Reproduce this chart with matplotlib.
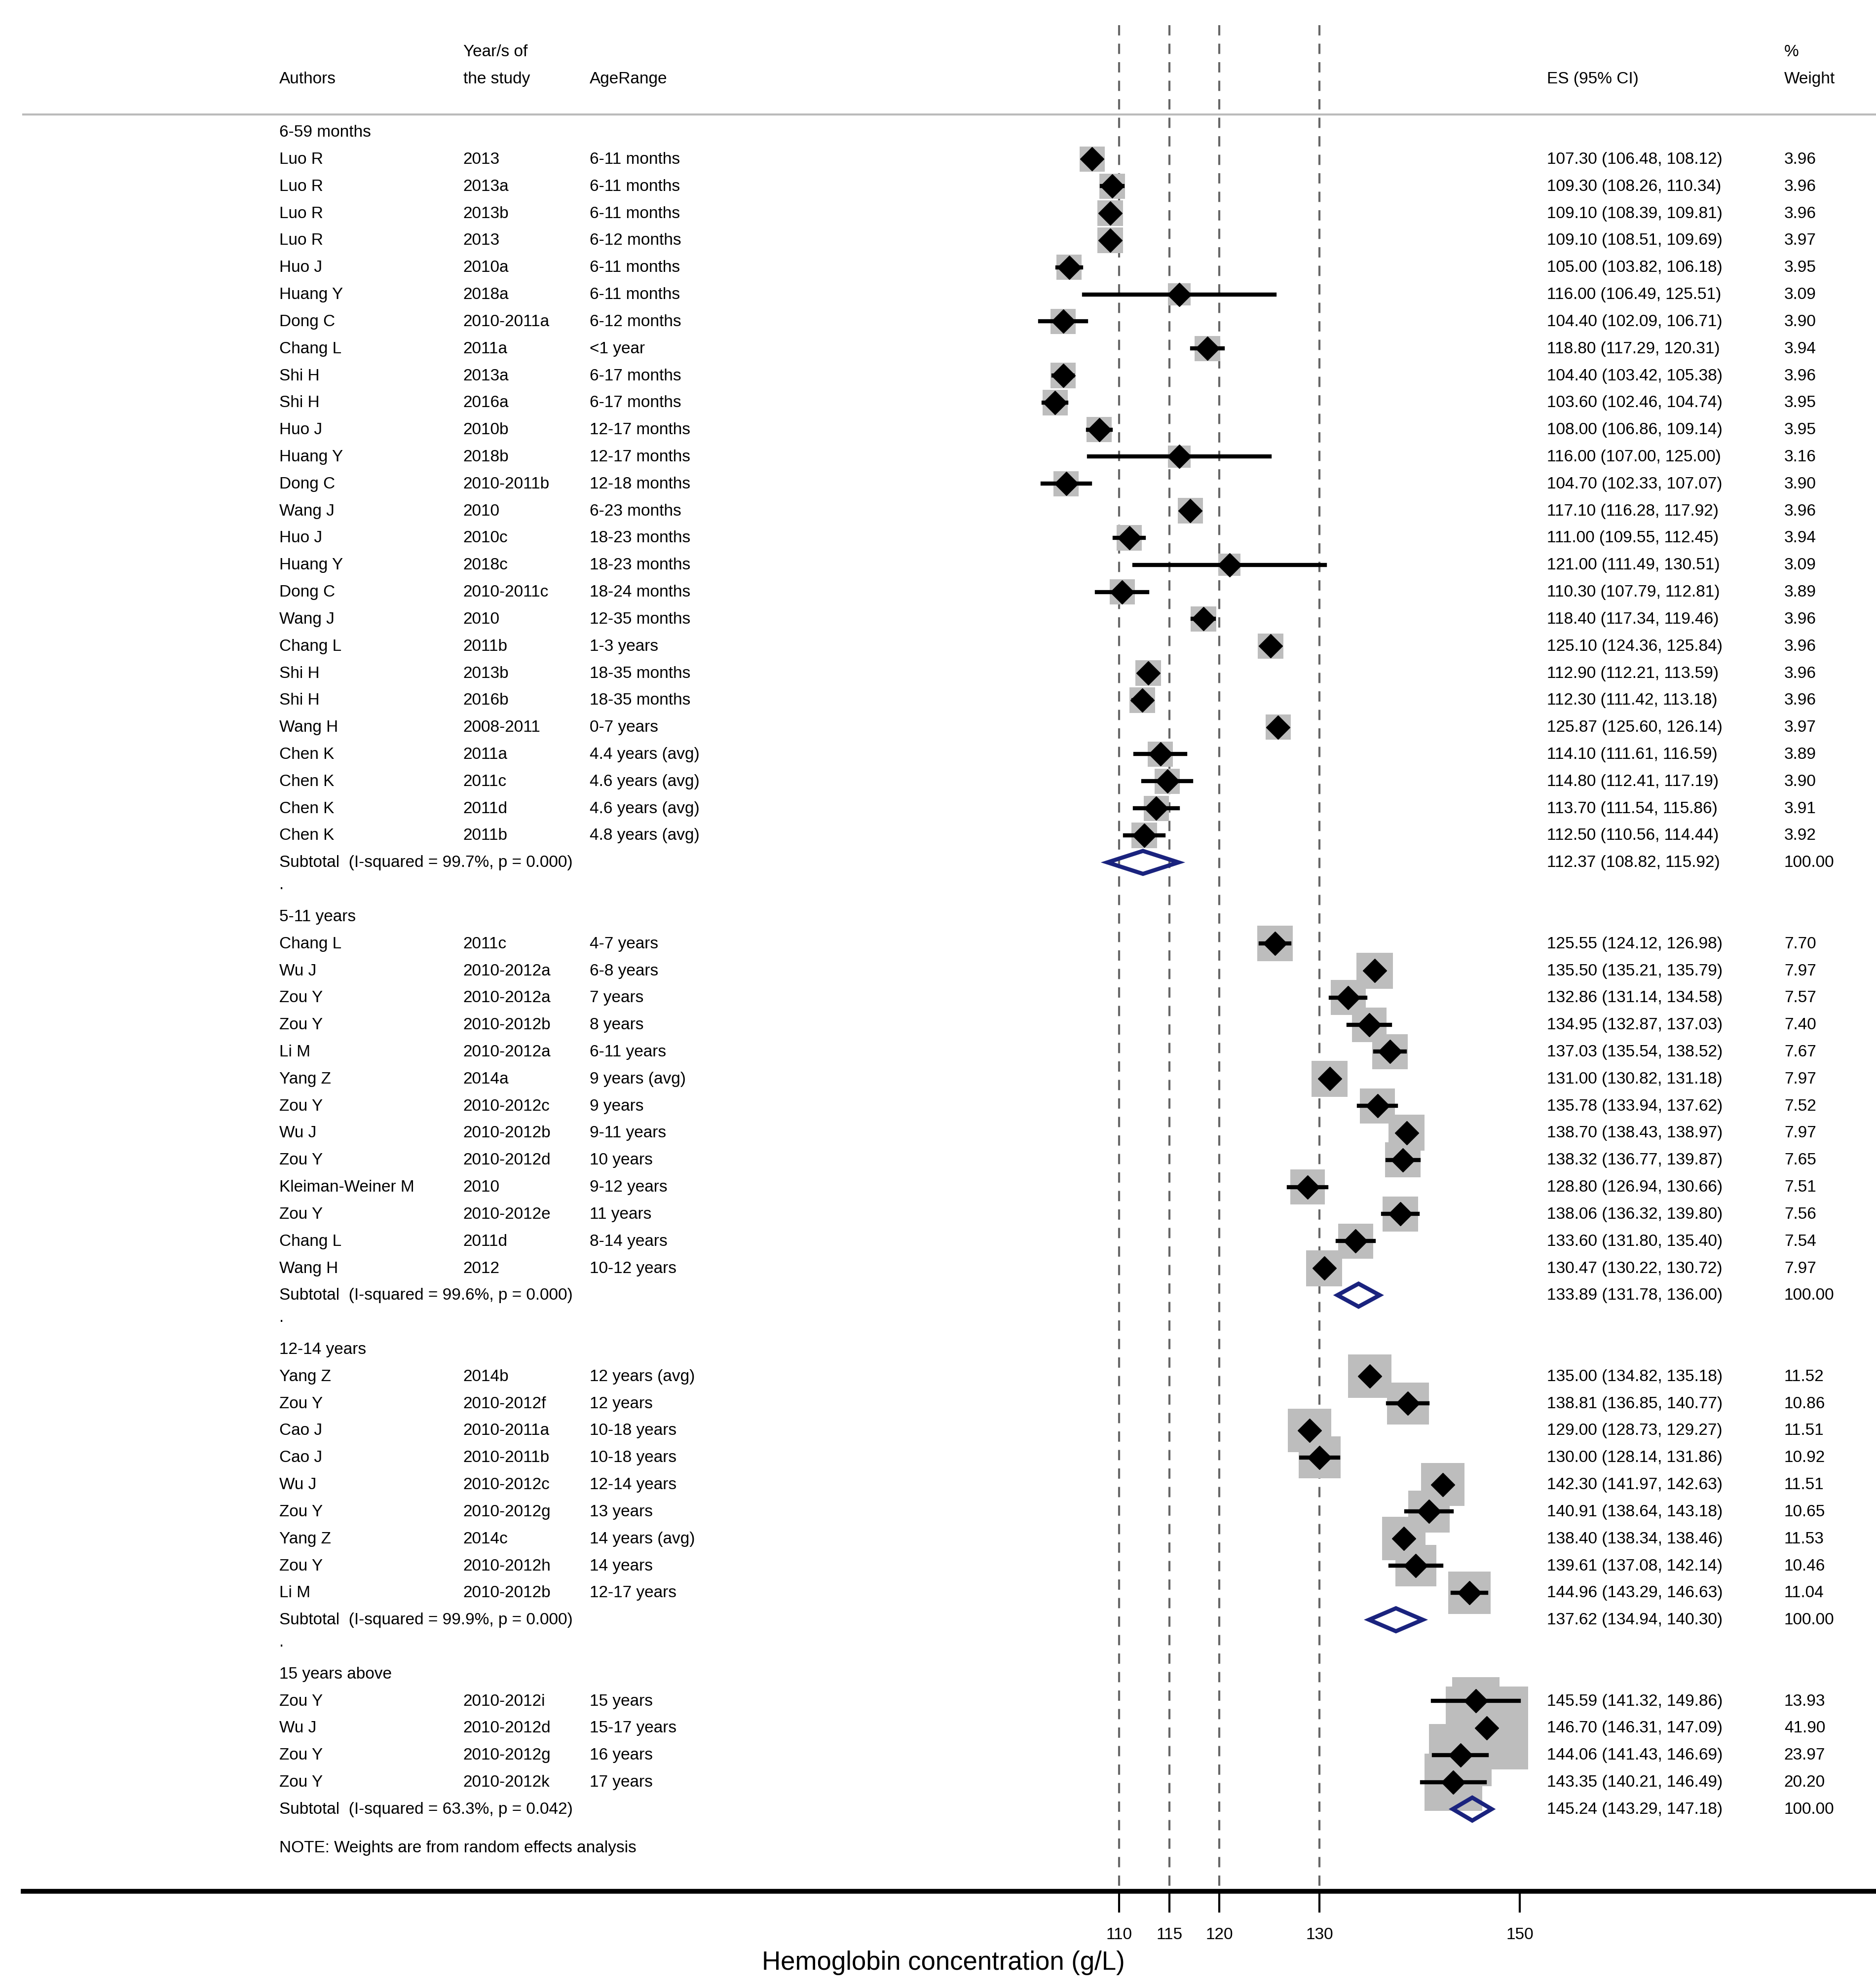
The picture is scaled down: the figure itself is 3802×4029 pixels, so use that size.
import matplotlib
matplotlib.use("Agg")
import matplotlib.pyplot as plt
from matplotlib.patches import Rectangle, Polygon
plt.rcParams['font.family'] = ['Liberation Sans', 'DejaVu Sans']

groups = ["6-59 months", "5-11 years", "12-14 years", "15 years above"]
authors = [
 ["Luo R","Luo R","Luo R","Luo R","Huo J","Huang Y","Dong C","Chang L","Shi H","Shi H","Huo J","Huang Y","Dong C","Wang J","Huo J","Huang Y","Dong C","Wang J","Chang L","Shi H","Shi H","Wang H","Chen K","Chen K","Chen K","Chen K"],
 ["Chang L","Wu J","Zou Y","Zou Y","Li M","Yang Z","Zou Y","Wu J","Zou Y","Kleiman-Weiner M","Zou Y","Chang L","Wang H"],
 ["Yang Z","Zou Y","Cao J","Cao J","Wu J","Zou Y","Yang Z","Zou Y","Li M"],
 ["Zou Y","Wu J","Zou Y","Zou Y"]]
years = [
 ["2013","2013a","2013b","2013","2010a","2018a","2010-2011a","2011a","2013a","2016a","2010b","2018b","2010-2011b","2010","2010c","2018c","2010-2011c","2010","2011b","2013b","2016b","2008-2011","2011a","2011c","2011d","2011b"],
 ["2011c","2010-2012a","2010-2012a","2010-2012b","2010-2012a","2014a","2010-2012c","2010-2012b","2010-2012d","2010","2010-2012e","2011d","2012"],
 ["2014b","2010-2012f","2010-2011a","2010-2011b","2010-2012c","2010-2012g","2014c","2010-2012h","2010-2012b"],
 ["2010-2012i","2010-2012d","2010-2012g","2010-2012k"]]
ages = [
 ["6-11 months","6-11 months","6-11 months","6-12 months","6-11 months","6-11 months","6-12 months","<1 year","6-17 months","6-17 months","12-17 months","12-17 months","12-18 months","6-23 months","18-23 months","18-23 months","18-24 months","12-35 months","1-3 years","18-35 months","18-35 months","0-7 years","4.4 years (avg)","4.6 years (avg)","4.6 years (avg)","4.8 years (avg)"],
 ["4-7 years","6-8 years","7 years","8 years","6-11 years","9 years (avg)","9 years","9-11 years","10 years","9-12 years","11 years","8-14 years","10-12 years"],
 ["12 years (avg)","12 years","10-18 years","10-18 years","12-14 years","13 years","14 years (avg)","14 years","12-17 years"],
 ["15 years","15-17 years","16 years","17 years"]]
es = [
 [107.30,109.30,109.10,109.10,105.00,116.00,104.40,118.80,104.40,103.60,108.00,116.00,104.70,117.10,111.00,121.00,110.30,118.40,125.10,112.90,112.30,125.87,114.10,114.80,113.70,112.50],
 [125.55,135.50,132.86,134.95,137.03,131.00,135.78,138.70,138.32,128.80,138.06,133.60,130.47],
 [135.00,138.81,129.00,130.00,142.30,140.91,138.40,139.61,144.96],
 [145.59,146.70,144.06,143.35]]
lo = [
 [106.48,108.26,108.39,108.51,103.82,106.49,102.09,117.29,103.42,102.46,106.86,107.00,102.33,116.28,109.55,111.49,107.79,117.34,124.36,112.21,111.42,125.60,111.61,112.41,111.54,110.56],
 [124.12,135.21,131.14,132.87,135.54,130.82,133.94,138.43,136.77,126.94,136.32,131.80,130.22],
 [134.82,136.85,128.73,128.14,141.97,138.64,138.34,137.08,143.29],
 [141.32,146.31,141.43,140.21]]
hi = [
 [108.12,110.34,109.81,109.69,106.18,125.51,106.71,120.31,105.38,104.74,109.14,125.00,107.07,117.92,112.45,130.51,112.81,119.46,125.84,113.59,113.18,126.14,116.59,117.19,115.86,114.44],
 [126.98,135.79,134.58,137.03,138.52,131.18,137.62,138.97,139.87,130.66,139.80,135.40,130.72],
 [135.18,140.77,129.27,131.86,142.63,143.18,138.46,142.14,146.63],
 [149.86,147.09,146.69,146.49]]
weights = [
 [3.96,3.96,3.96,3.97,3.95,3.09,3.90,3.94,3.96,3.95,3.95,3.16,3.90,3.96,3.94,3.09,3.89,3.96,3.96,3.96,3.96,3.97,3.89,3.90,3.91,3.92],
 [7.70,7.97,7.57,7.40,7.67,7.97,7.52,7.97,7.65,7.51,7.56,7.54,7.97],
 [11.52,10.86,11.51,10.92,11.51,10.65,11.53,10.46,11.04],
 [13.93,41.90,23.97,20.20]]
sub_label = ["Subtotal  (I-squared = 99.7%, p = 0.000)","Subtotal  (I-squared = 99.6%, p = 0.000)",
             "Subtotal  (I-squared = 99.9%, p = 0.000)","Subtotal  (I-squared = 63.3%, p = 0.042)"]
sub_es = [112.37,133.89,137.62,145.24]
sub_lo = [108.82,131.78,134.94,143.29]
sub_hi = [115.92,136.00,140.30,147.18]
ref_lines = [110,115,120,130]
xticks = [110,115,120,130,150]

W, H = 1470, 1560
fig = plt.figure(figsize=(38.02,40.30), dpi=100)
ax = fig.add_axes([0,0,1,1])
ppu = 7.85
x0 = 110 - 877/ppu
ax.set_xlim(x0, x0 + W/ppu)
ax.set_ylim(H, 0)
ax.axis("off")
def px(p): return x0 + p/ppu

fs = 24
ax.text(px(363), 41, "Year/s of", fontsize=fs, va="center")
ax.text(px(219), 62, "Authors", fontsize=fs, va="center")
ax.text(px(363), 62, "the study", fontsize=fs, va="center")
ax.text(px(462), 62, "AgeRange", fontsize=fs, va="center")
ax.text(px(1212), 62, "ES (95% CI)", fontsize=fs, va="center")
ax.text(px(1398), 41, "%", fontsize=fs, va="center")
ax.text(px(1398), 62, "Weight", fontsize=fs, va="center")
ax.plot([px(18), px(1470)], [90, 90], color="#bbbbbb", lw=3)

for v in ref_lines:
    ax.plot([v, v], [20, 1484], color="#666666", lw=3, ls=(0, (5, 4)), zorder=1)

step = 21.22
row = 0
def ry(r): return 104 + step*r
for g in range(4):
    ax.text(px(219), ry(row), groups[g], fontsize=fs, va="center")
    row += 1
    for i in range(len(es[g])):
        y = ry(row)
        ax.text(px(219), y, authors[g][i], fontsize=fs, va="center")
        ax.text(px(363), y, years[g][i], fontsize=fs, va="center")
        ax.text(px(462), y, ages[g][i], fontsize=fs, va="center")
        ax.text(px(1212), y, f"{es[g][i]:.2f} ({lo[g][i]:.2f}, {hi[g][i]:.2f})", fontsize=fs, va="center")
        ax.text(px(1398), y, f"{weights[g][i]:.2f}", fontsize=fs, va="center")
        side = 10*weights[g][i]**0.5
        ax.add_patch(Rectangle((es[g][i]-side/ppu/2, y-side/2), side/ppu, side, color="#bdbdbd", zorder=2, lw=0))
        ax.plot([lo[g][i], hi[g][i]], [y, y], color="black", lw=6, zorder=3)
        ax.plot([es[g][i]], [y], marker="D", color="black", ms=24, zorder=4)
        row += 1
    y = ry(row)
    ax.text(px(219), y, sub_label[g], fontsize=fs, va="center")
    ax.text(px(1212), y, f"{sub_es[g]:.2f} ({sub_lo[g]:.2f}, {sub_hi[g]:.2f})", fontsize=fs, va="center")
    ax.text(px(1398), y, "100.00", fontsize=fs, va="center")
    ax.add_patch(Polygon([(sub_lo[g], y), (sub_es[g], y-9), (sub_hi[g], y), (sub_es[g], y+9)],
                         closed=True, fill=False, edgecolor="#1a237e", lw=6, zorder=4))
    row += 1
    if g < 3:
        ax.text(px(219), ry(row)-4, ".", fontsize=fs, va="center")
        row += 1
ax.text(px(219), 1450, "NOTE: Weights are from random effects analysis", fontsize=fs, va="center")

ax.plot([px(18), px(1470)], [1484, 1484], color="black", lw=7)
for t in xticks:
    ax.plot([t, t], [1484, 1500], color="black", lw=3)
    ax.text(t, 1518, str(t), fontsize=fs, ha="center", va="center")
ax.text(px(739), 1540, "Hemoglobin concentration (g/L)", fontsize=38, ha="center", va="center")

fig.savefig("out.png", dpi=100, facecolor="white")
